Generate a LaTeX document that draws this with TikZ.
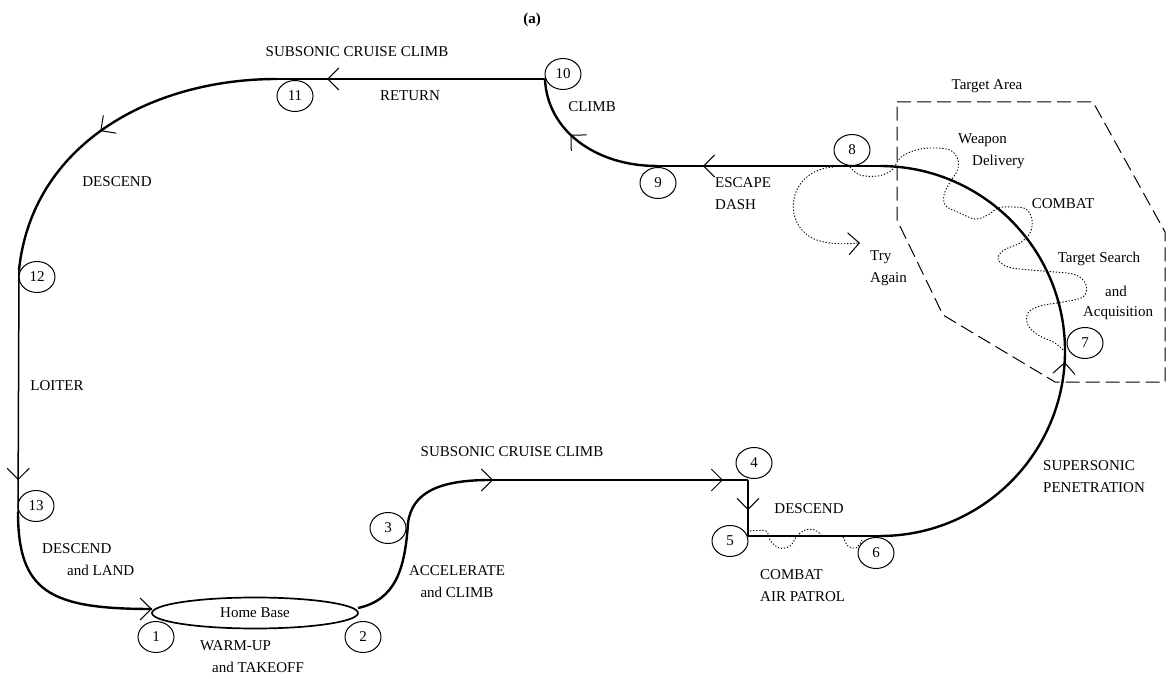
\documentclass[tikz,border=0pt]{standalone}
\usepackage{fontspec}
\setmainfont{Liberation Serif}
\usetikzlibrary{arrows.meta,decorations.markings,shapes.geometric}
\tikzset{
  barb/.tip={Straight Barb[length=11pt,width=22pt,line width=1pt]},
  flowmark/.style={postaction={decorate},
    decoration={markings, mark=at position #1 with {\arrow{barb}}}},
}
\begin{document}
\begin{tikzpicture}[x=1pt,y=-1pt,
  every node/.style={font=\fontsize{15}{22}\selectfont, inner sep=0pt},
  track/.style={line width=2.4pt, line join=round},
  thintrack/.style={line width=1.5pt},
  num/.style={draw, ellipse, line width=1pt, minimum width=36pt, minimum height=31pt,
    font=\fontsize{15}{17}\selectfont},
  zone/.style={dash pattern=on 14pt off 6pt, line width=1pt},
  manoeuvre/.style={dash pattern=on 1.3pt off 1.8pt, line width=0.9pt},
]
\useasboundingbox (0,0) rectangle (1168,679);

% waypoints of the mission profile
\coordinate (w10) at (545,79);
\coordinate (w11) at (277,79);
\coordinate (w12) at (19,270);
\coordinate (w13) at (18,512);
\coordinate (w1) at (152,609);
\coordinate (w2) at (358,608);
\coordinate (w3) at (408,523);
\coordinate (w3b) at (490,480);
\coordinate (w4) at (748,480);
\coordinate (w5) at (748,536);
\coordinate (w6) at (880,536);
\coordinate (w8) at (880,166);
\coordinate (w9) at (657,166);

% home base
\node[draw, ellipse, line width=1.7pt, minimum width=206pt, minimum height=31pt]
  (base) at (255,613) {Home Base};

% target area boundary
\draw[zone] (897,102) -- (1093,102) -- (1165,232) -- (1165,382) -- (1055,382)
  -- (943,315) -- (897,220) -- cycle;

% outbound leg
\draw[track] (w2) .. controls (395,600) and (405,570) .. (w3)
  .. controls (412,492) and (440,480) .. (w3b);
\draw[track, postaction={decorate}, decoration={markings,
  mark=at position 0.012 with {\arrow{barb}},
  mark=at position 0.903 with {\arrow{barb}}}] (w3b) -- (w4);
\draw[thintrack, flowmark=0.536] (w4) -- (w5);
\draw[track] (w5) -- (w6);
\draw[track, flowmark=0.481] (w6) arc[start angle=90, end angle=-90, radius=185];

% return leg
\draw[track, flowmark=0.794] (w8) -- (w9);
\draw[track, flowmark=0.6] (w9) .. controls (595,166) and (547,130) .. (w10);
\draw[track, flowmark=0.813] (w10) -- (w11);
\draw[track, flowmark=0.53] (w11) .. controls (150,79) and (32,145) .. (w12);
\draw[thintrack, flowmark=0.868] (w12) -- (w13);
\draw[track, flowmark=0.999] (w13) .. controls (18,592) and (50,609) .. (w1);

% combat manoeuvres
\draw[manoeuvre] plot[smooth, tension=0.6] coordinates {
  (850,167) (860,175) (878,176) (892,170) (900,158) (913,151) (930,148)
  (950,150) (958,160) (957,171) (950,182) (944,195) (946,206) (960,213)
  (975,219) (988,215) (998,208) (1012,207) (1026,209) (1032,220) (1030,233)
  (1020,243) (1004,250) (998,259) (1008,267) (1030,270) (1055,272) (1076,275)
  (1086,285) (1083,297) (1063,302) (1040,306) (1028,313) (1028,325) (1038,335)
  (1055,343) (1066,353)};
\draw[manoeuvre, -{barb}] (833,167) .. controls (790,170) and (780,220) .. (812,238)
  .. controls (826,245) and (845,244) .. (860,243);
\draw[manoeuvre] plot[smooth, tension=0.6] coordinates {
  (750,531) (766,531) (770,540) (779,548) (790,546) (797,536) (805,530)
  (815,530) (822,536)};
\draw[manoeuvre] plot[smooth, tension=0.6] coordinates {
  (843,537) (848,546) (856,548) (862,540)};

% numbered mission points
\node[num] (n1) at (156,637) {1};
\node[num] (n2) at (363,637) {2};
\node[num] (n3) at (388,528) {3};
\node[num] (n4) at (754,463) {4};
\node[num] (n5) at (730,541) {5};
\node[num] (n6) at (876,553) {6};
\node[num] (n7) at (1085,343) {7};
\node[num] (n8) at (852,150) {8};
\node[num] (n9) at (658,183) {9};
\node[num] (n10) at (563,74) {10};
\node[num] (n11) at (295,96) {11};
\node[num] (n12) at (37,277) {12};
\node[num] (n13) at (36,506) {13};

% labels
\node[font=\fontsize{15}{17}\selectfont\bfseries] (ttl) at (532,20) {(a)};
\node (lSubR) at (357,52) {SUBSONIC CRUISE CLIMB};
\node (lRet) at (410,96) {RETURN};
\node (lClimb) at (592,107) {CLIMB};
\node[align=left, anchor=west] (lEsc) at (715,194) {ESCAPE\\DASH};
\node (lDesc1) at (117,182) {DESCEND};
\node (lLoiter) at (57,386) {LOITER};
\node[align=left, anchor=west] (lLand) at (42,560) {DESCEND\\\hspace*{25pt}and LAND};
\node[align=left, anchor=west] (lWarm) at (200,657) {WARM-UP\\\hspace*{12pt}and TAKEOFF};
\node[align=center] (lAcc) at (457,582) {ACCELERATE\\and CLIMB};
\node (lSubO) at (512,452) {SUBSONIC CRUISE CLIMB};
\node (lDesc2) at (809,509) {DESCEND};
\node[align=left, anchor=west] (lCap) at (760,586) {COMBAT\\AIR PATROL};
\node[align=left, anchor=west] (lSup) at (1043,477) {SUPERSONIC\\PENETRATION};
\node (lTA) at (987,86) {Target Area};
\node[align=left, anchor=west] (lWd) at (958,151) {Weapon\\\hspace*{14pt}Delivery};
\node (lCombat) at (1063,204) {COMBAT};
\node (lTs) at (1099,259) {Target Search};
\node (lAnd) at (1116,291) {and};
\node (lAcq) at (1118,313) {Acquisition};
\node[align=left, anchor=west] (lTry) at (870,268) {Try\\Again};
\end{tikzpicture}
\end{document}
